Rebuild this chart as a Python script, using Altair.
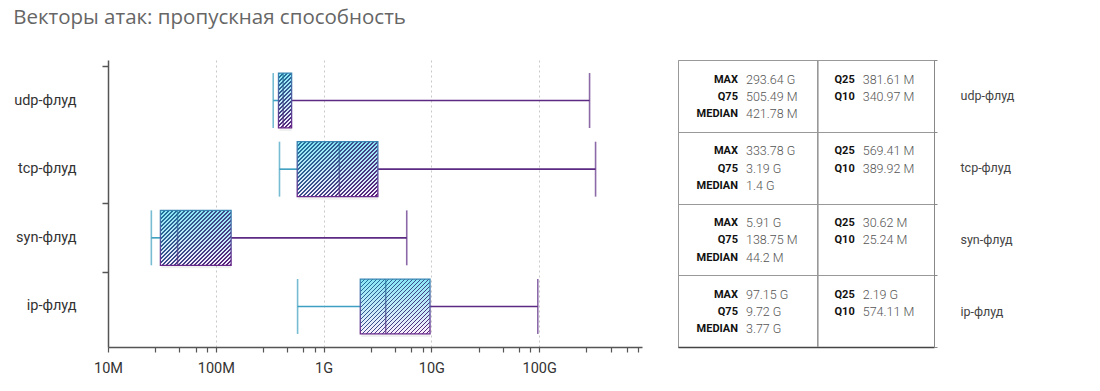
import math
import altair as alt
import pandas as pd

TITLE = "Векторы атак: пропускная способность"
CATEGORIES = ["udp-флуд", "tcp-флуд", "syn-флуд", "ip-флуд"]
Q10 = [340.97e6, 389.92e6, 25.24e6, 574.11e6]
Q25 = [381.61e6, 569.41e6, 30.62e6, 2.19e9]
MEDIAN = [421.78e6, 1.4e9, 44.2e6, 3.77e9]
Q75 = [505.49e6, 3.19e9, 138.75e6, 9.72e9]
MAX = [293.64e9, 333.78e9, 5.91e9, 97.15e9]

MAJOR_TICKS = [1e7, 1e8, 1e9, 1e10, 1e11]
MAJOR_LABELS = ["10M", "100M", "1G", "10G", "100G"]
MINOR_MULT = [2.75, 4.6, 6.5, 8.3]
X_DOMAIN = [1e7, 9e11]

LEFT_ROWS = ["MAX", "Q75", "MEDIAN"]
RIGHT_ROWS = ["Q25", "Q10"]

# ---- style / layout constants ----
FONT = "Roboto"
BOX_W, PANEL_H, TABLE_W = 534, 287, 256
PAD_IN, PAD_OUT = 0.2, 0.19
TEAL = "#3d9fc1"
PURPLE = "#5b2a82"
LIGHT_TOP, LIGHT_BOTTOM = "#88e6f5", "#fbeefc"
STRIPE_TOP, STRIPE_BOTTOM = "#1f779d", "#5a1f78"
OUTLINE_TOP, OUTLINE_BOTTOM = "#3a86b3", "#6a2a8c"
HATCH_PERIOD, DUTY = 4.0, 0.4
LINE_DY = [-16.3, 1.0, 18.3]


def fmt(v):
    if v >= 1e9:
        s, u = f"{v / 1e9:.2f}", "G"
    else:
        s, u = f"{v / 1e6:.2f}", "M"
    s = s.rstrip("0").rstrip(".")
    return f"{s} {u}"


def hexrgb(h):
    h = h.lstrip("#")
    return [int(h[i:i + 2], 16) for i in (0, 2, 4)]


def mix(a, b, f):
    ca, cb = hexrgb(a), hexrgb(b)
    return "#" + "".join(f"{round(x + (y - x) * f):02x}" for x, y in zip(ca, cb))


def vgrad(top, bottom):
    return {"gradient": "linear", "x1": 0, "y1": 0, "x2": 0, "y2": 1,
            "stops": [{"offset": 0, "color": top}, {"offset": 1, "color": bottom}]}


LOG_SPAN = math.log10(X_DOMAIN[1]) - math.log10(X_DOMAIN[0])
PX_PER_DEC = BOX_W / LOG_SPAN
STEP = PANEL_H / (len(CATEGORIES) - PAD_IN + 2 * PAD_OUT)
BAND = STEP * (1 - PAD_IN)


def hatch_gradient(q25, q75):
    w = (math.log10(q75) - math.log10(q25)) * PX_PER_DEC
    h = BAND
    n = math.ceil((w + h) / HATCH_PERIOD)
    k = n * HATCH_PERIOD / (w * w + h * h)
    clear = "rgba(255,255,255,0)"
    stops = []
    for j in range(n):
        c = mix(STRIPE_TOP, STRIPE_BOTTOM, (j + 0.5) / n)
        a, b, e = round(j / n, 5), round((j + DUTY) / n, 5), round((j + 1) / n, 5)
        stops += [{"offset": a, "color": c}, {"offset": b, "color": c},
                  {"offset": b, "color": clear}, {"offset": e, "color": clear}]
    return {"gradient": "linear", "x1": 0, "y1": 0,
            "x2": round(k * w, 5), "y2": round(k * h, 5), "stops": stops}


box_df = pd.DataFrame({"cat": CATEGORIES, "q10": Q10, "q25": Q25,
                       "median": MEDIAN, "q75": Q75, "max": MAX})

rows = []
for i, c in enumerate(CATEGORIES):
    vals = {"MAX": MAX[i], "Q75": Q75[i], "MEDIAN": MEDIAN[i], "Q25": Q25[i], "Q10": Q10[i]}
    for li, lab in enumerate(LEFT_ROWS):
        rows.append({"cat": c, "col": "left", "line": li, "label": lab, "value": fmt(vals[lab])})
    for li, lab in enumerate(RIGHT_ROWS):
        rows.append({"cat": c, "col": "right", "line": li, "label": lab, "value": fmt(vals[lab])})
table_df = pd.DataFrame(rows)

# ---- box panel ----
minor = [m * d for d in MAJOR_TICKS for m in MINOR_MULT if m * d <= X_DOMAIN[1]]
tick_values = sorted(MAJOR_TICKS + minor)
label_expr = "".join(f"datum.value == {v:g} ? '{l}' : " for v, l in zip(MAJOR_TICKS, MAJOR_LABELS)) + "''"
grid_test = " || ".join(f"datum.value == {v:g}" for v in MAJOR_TICKS[1:])

x_scale = alt.Scale(type="log", domain=X_DOMAIN, nice=False)
X_AX = alt.Axis(values=tick_values, title=None, labelExpr=label_expr, labelOverlap=False,
                labelFlush=False, grid=True, gridDash=[2, 3], gridColor="#c8c8c8", gridWidth=1,
                gridOpacity={"condition": {"test": grid_test, "value": 1}, "value": 0},
                domainColor="#555", domainWidth=1.5, tickColor="#555", tickWidth=1.2, tickSize=5,
                labelFontSize=14.5, labelColor="#333", labelPadding=9, labelFont=FONT)
y_scale = alt.Scale(domain=CATEGORIES, paddingInner=PAD_IN, paddingOuter=PAD_OUT)
Y_AX = alt.Axis(title=None, orient="left", domainColor="#555", domainWidth=1.5,
                tickColor="#555", tickWidth=1.5, tickSize=6, labelPadding=26,
                labelFontSize=14.5, labelColor="#333", labelFont=FONT,
                bandPosition=-0.125,
                tickOpacity={"condition": {"test": "datum.value === 'tcp-флуд'", "value": 0}, "value": 1})

base = alt.Chart(box_df)
Y = alt.Y("cat:N", scale=y_scale, axis=Y_AX)


def X(f):
    return alt.X(f"{f}:Q", scale=x_scale, axis=X_AX)


left_whisker = base.mark_rule(color=TEAL, strokeWidth=1.6).encode(x=X("q10"), x2="q25", y=Y)
right_whisker = base.mark_rule(color=PURPLE, strokeWidth=1.6).encode(x=X("q75"), x2="max", y=Y)
q10_cap = base.mark_tick(color=TEAL, thickness=1.6, size=BAND).encode(x=X("q10"), y=Y)
max_cap = base.mark_tick(color=PURPLE, thickness=1.6, size=BAND).encode(x=X("max"), y=Y)
shadow = base.mark_bar(color="#000", opacity=0.06, yOffset=3, xOffset=1).encode(x=X("q25"), x2="q75", y=Y)
box_fill = base.mark_bar(fill=vgrad(LIGHT_TOP, LIGHT_BOTTOM)).encode(x=X("q25"), x2="q75", y=Y)
hatches = [
    base.transform_filter(alt.datum.cat == c)
    .mark_bar(fill=hatch_gradient(Q25[i], Q75[i]))
    .encode(x=X("q25"), x2="q75", y=Y)
    for i, c in enumerate(CATEGORIES)
]
median_tick = base.mark_tick(color=vgrad(STRIPE_TOP, STRIPE_BOTTOM), thickness=1.5, size=BAND).encode(x=X("median"), y=Y)
outline = base.mark_bar(fill="transparent", stroke=vgrad(OUTLINE_TOP, OUTLINE_BOTTOM), strokeWidth=1.3).encode(
    x=X("q25"), x2="q75", y=Y)

box_panel = alt.layer(left_whisker, right_whisker, q10_cap, max_cap, shadow, box_fill, *hatches,
                      median_tick, outline).properties(
    width=BOX_W, height=PANEL_H, view=alt.ViewBackground(stroke="transparent"))

# ---- table panel ----
tx_scale = alt.Scale(type="point", domain=["left", "right"], padding=0.5968, align=0.4595)
TX_AX = alt.Axis(title=None, labels=False, ticks=False, grid=False, domainColor="#444", domainWidth=1.5)
ty_scale = alt.Scale(domain=CATEGORIES, paddingInner=0, paddingOuter=0)
TY_AX = alt.Axis(title=None, orient="right", tickBand="extent",
                 grid=True, gridColor="#999", gridWidth=1, domainColor="#888", domainWidth=1,
                 tickColor="#888", tickSize=3, labelPadding=23, labelFontSize=12.5, labelColor="#444",
                 labelAlign="left", labelFont=FONT)
tbase = alt.Chart(table_df)
TXE = alt.X("col:N", scale=tx_scale, axis=TX_AX)
TYE = alt.Y("cat:N", scale=ty_scale, axis=TY_AX)

divider = tbase.transform_filter("datum.col == 'right' && datum.line == 0").mark_rule(
    color="#999", strokeWidth=1, xOffset=-41).encode(x=TXE)
texts = []
for li, dy in enumerate(LINE_DY):
    sub = tbase.transform_filter(f"datum.line == {li}")
    texts.append(sub.mark_text(align="right", dx=-4, dy=dy, fontSize=11, fontWeight="bold",
                               color="#111", font=FONT).encode(x=TXE, y=TYE, text="label:N"))
    texts.append(sub.mark_text(align="left", dx=4, dy=dy, fontSize=12.5, fontWeight=300,
                               color="#555", font=FONT).encode(x=TXE, y=TYE, text="value:N"))

table_panel = alt.layer(divider, *texts).properties(
    width=TABLE_W, height=PANEL_H, view=alt.ViewBackground(stroke="#999", strokeWidth=1))

chart = alt.hconcat(box_panel, table_panel, spacing=34).resolve_scale(
    x="independent", y="independent").properties(
    title=alt.TitleParams(TITLE, anchor="start", fontSize=20.5, font="Open Sans", fontWeight="normal",
                          color="#666", offset=25),
    padding={"left": 5, "top": 0, "right": 5, "bottom": 5},
).configure(font=FONT)

chart.save("out.html", embed_options={"renderer": "svg", "actions": False})
